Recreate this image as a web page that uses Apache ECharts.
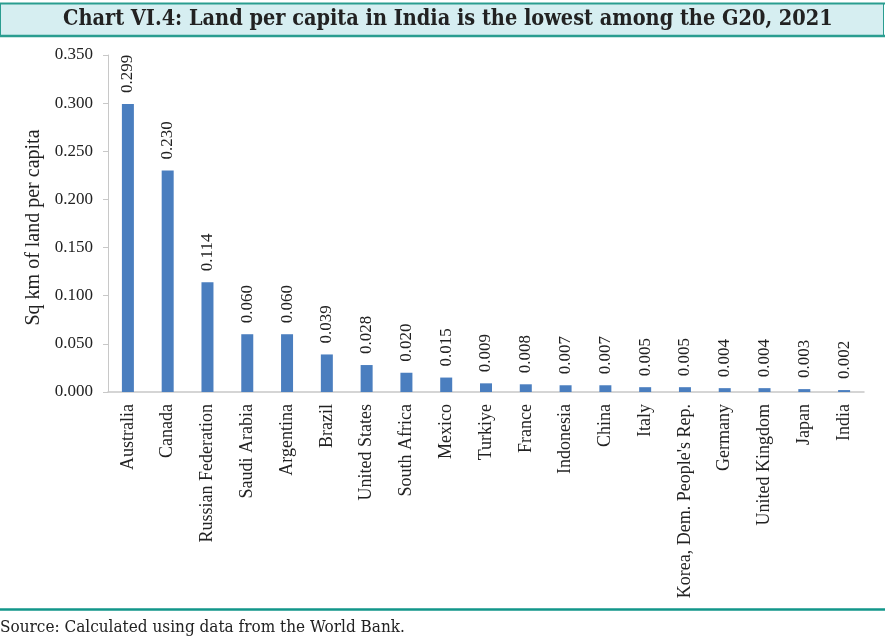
<!DOCTYPE html>
<html><head><meta charset="utf-8">
<script src="https://cdn.jsdelivr.net/npm/echarts@6/dist/echarts.min.js"></script>
<style>
html,body{margin:0;padding:0;background:#fff;}
#c{width:885px;height:639px;}
</style></head><body><div id="c"></div>
<script>
var categories = ["Australia","Canada","Russian Federation","Saudi Arabia","Argentina","Brazil","United States","South Africa","Mexico","Turkiye","France","Indonesia","China","Italy","Korea, Dem. People's Rep.","Germany","United Kingdom","Japan","India"];
var values = [0.299,0.230,0.114,0.060,0.060,0.039,0.028,0.020,0.015,0.009,0.008,0.007,0.007,0.005,0.005,0.004,0.004,0.003,0.002];
var titleText = "Chart VI.4: Land per capita in India is the lowest among the G20, 2021";
var yAxisName = "Sq km of land per capita";
var sourceText = "Source: Calculated using data from the World Bank.";

var chart = echarts.init(document.getElementById('c'));
var serif = "'Liberation Serif','Times New Roman',serif";
chart.setOption({
  animation:false,
  graphic:[
    {type:'rect', shape:{x:0.5,y:3.5,width:883,height:32}, style:{fill:'#d6eef1', stroke:'#2a9d90', lineWidth:1}, z:-1},
    {type:'line', shape:{x1:0,y1:3.5,x2:885,y2:3.5}, style:{stroke:'#2a9d90', lineWidth:2}},
    {type:'line', shape:{x1:0,y1:36,x2:885,y2:36}, style:{stroke:'#2a9d90', lineWidth:2.5}},
    {type:'text', left:63, top:8, style:{text:titleText, font:"bold 21.5px 'DejaVu Serif Condensed','DejaVu Serif',serif", fill:'#222'}},
    {type:'line', shape:{x1:0,y1:609.5,x2:885,y2:609.5}, style:{stroke:'#12968a', lineWidth:2.5}},
    {type:'text', left:0, top:619, style:{text:sourceText, font:"17px 'DejaVu Serif Condensed','DejaVu Serif',serif", fill:'#222'}}
  ],
  grid:{left:108, right:21, top:55, bottom:247, containLabel:false},
  xAxis:{
    type:'category', data:categories,
    axisLine:{lineStyle:{color:'#c8c8c8', width:1.5}},
    axisTick:{show:false},
    axisLabel:{rotate:90, interval:0, fontFamily:serif, fontSize:18, color:'#222', margin:12}
  },
  yAxis:{
    type:'value', min:0, max:0.35, interval:0.05,
    name:yAxisName, nameLocation:'middle', nameGap:60, nameRotate:90,
    nameTextStyle:{fontFamily:serif, fontSize:20, color:'#222', padding:[0,8,0,0]},
    axisLine:{show:true, lineStyle:{color:'#c8c8c8'}},
    axisTick:{show:true, inside:false, length:5, lineStyle:{color:'#c8c8c8'}},
    splitLine:{show:false},
    axisLabel:{fontFamily:serif, fontSize:17, color:'#222', margin:15, formatter:function(v){return v.toFixed(3);}}
  },
  series:[{
    type:'bar', data:values, barWidth:12,
    itemStyle:{color:'#4a7ebf'},
    label:{show:true, position:'top', rotate:90, align:'left', verticalAlign:'middle', distance:11,
      fontFamily:serif, fontSize:17, color:'#222', formatter:function(p){return p.value.toFixed(3);}}
  }]
});
</script></body></html>
